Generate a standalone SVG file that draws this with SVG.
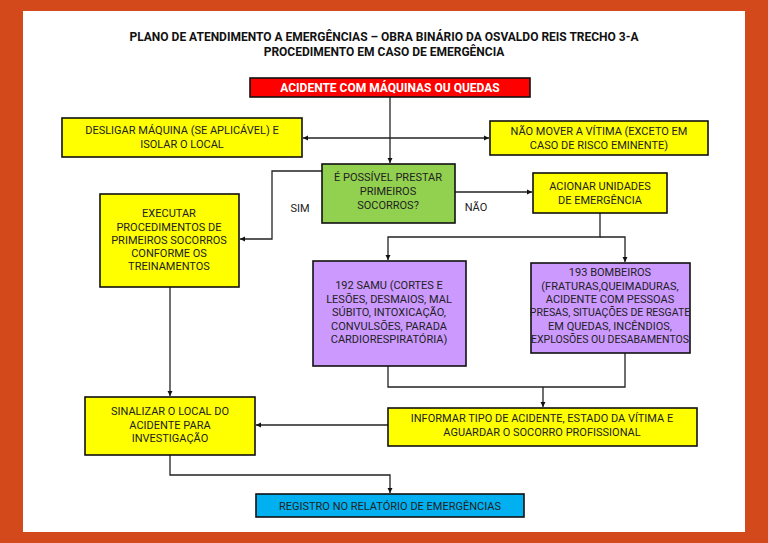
<svg xmlns="http://www.w3.org/2000/svg" width="768" height="543" viewBox="0 0 768 543">
<defs>
<marker id="ah" markerWidth="6" markerHeight="6" refX="5" refY="3" orient="auto" markerUnits="userSpaceOnUse"><path d="M0,0.5 L5,3 L0,5.5z" fill="#111"/></marker>
</defs>
<style>
.b{stroke:#111;stroke-width:1.6}
.y{fill:#ffff00}.p{fill:#cc99ff}.g{fill:#92d050}
text{font-family:Roboto,"Liberation Sans",sans-serif;font-size:11px;fill:#222;text-anchor:middle}
.s{font-size:10.5px}
.c{fill:none;stroke:#222;stroke-width:1.3}
</style>
<rect width="768" height="543" fill="#d4491c"/>
<rect x="23" y="11" width="722" height="521" fill="#fff"/>
<g id="title"><text x="384" y="41" style="font-weight:bold;font-size:12px;fill:#111">PLANO DE ATENDIMENTO A EMERGÊNCIAS – OBRA BINÁRIO DA OSVALDO REIS TRECHO 3-A</text>
<text x="384" y="56" style="font-weight:bold;font-size:12px;fill:#111">PROCEDIMENTO EM CASO DE EMERGÊNCIA</text></g>
<g id="connectors">
<path class="c" d="M390,97 V163" marker-end="url(#ah)"/>
<path class="c" d="M390,138 H303" marker-end="url(#ah)"/>
<path class="c" d="M390,138 H489" marker-end="url(#ah)"/>
<path class="c" d="M322,171 H272 V239 H240" marker-end="url(#ah)"/>
<path class="c" d="M455,192 H532" marker-end="url(#ah)"/>
<path class="c" d="M600,213 V237 H388 V260"  marker-end="url(#ah)"/>
<path class="c" d="M600,237 H625 V262" marker-end="url(#ah)"/>
<path class="c" d="M170,287 V396" marker-end="url(#ah)"/>
<path class="c" d="M388,366 V387 H625 V353"/>
<path class="c" d="M543,387 V407" marker-end="url(#ah)"/>
<path class="c" d="M388,425 H256" marker-end="url(#ah)"/>
<path class="c" d="M170,455 V475 H390 V493" marker-end="url(#ah)"/>
<text x="300" y="212">SIM</text><text x="476" y="211">NÃO</text>
</g>
<g id="n1"><rect x="250" y="78" width="280" height="19" fill="#ff0000" class="b"/><text x="390" y="92" style="fill:#fff;font-weight:bold;font-size:12px">ACIDENTE COM MÁQUINAS OU QUEDAS</text></g>
<g id="n2"><rect x="62" y="118" width="240" height="39" class="y b"/><text x="182" y="134">DESLIGAR MÁQUINA (SE APLICÁVEL) E</text><text x="182" y="148">ISOLAR O LOCAL</text></g>
<g id="n3"><rect x="490" y="121" width="218" height="34" class="y b"/><text x="599" y="135">NÃO MOVER A VÍTIMA (EXCETO EM</text><text x="599" y="149">CASO DE RISCO EMINENTE)</text></g>
<g id="n4"><rect x="322" y="164" width="133" height="59" class="g b"/><text x="388" y="181">É POSSÍVEL PRESTAR</text><text x="388" y="195">PRIMEIROS</text><text x="388" y="209">SOCORROS?</text></g>
<g id="n5"><rect x="533" y="173" width="134" height="40" class="y b"/><text x="600" y="190">ACIONAR UNIDADES</text><text x="600" y="204">DE EMERGÊNCIA</text></g>
<g id="n6"><rect x="100" y="194" width="139" height="93" class="y b"/><text x="169" y="217">EXECUTAR</text><text x="169" y="231">PROCEDIMENTOS DE</text><text x="169" y="244">PRIMEIROS SOCORROS</text><text x="169" y="257">CONFORME OS</text><text x="169" y="270">TREINAMENTOS</text></g>
<g id="n7"><rect x="313" y="261" width="153" height="105" class="p b"/><text x="389" y="289">192 SAMU (CORTES E</text><text x="389" y="303">LESÕES, DESMAIOS, MAL</text><text x="389" y="316">SÚBITO, INTOXICAÇÃO,</text><text x="389" y="330">CONVULSÕES, PARADA</text><text x="389" y="343">CARDIORESPIRATÓRIA)</text></g>
<g id="n8"><rect x="531" y="263" width="159" height="90" class="p b"/><text x="610" y="276">193 BOMBEIROS</text><text x="610" y="290">(FRATURAS,QUEIMADURAS,</text><text x="610" y="303">ACIDENTE COM PESSOAS</text><text class="s" x="610" y="316">PRESAS, SITUAÇÕES DE RESGATE</text><text x="610" y="330">EM QUEDAS, INCÊNDIOS,</text><text class="s" x="610" y="343">EXPLOSÕES OU DESABAMENTOS</text></g>
<g id="n9"><rect x="85" y="397" width="170" height="58" class="y b"/><text x="170" y="415">SINALIZAR O LOCAL DO</text><text x="170" y="429">ACIDENTE PARA</text><text x="170" y="442">INVESTIGAÇÃO</text></g>
<g id="n10"><rect x="388" y="408" width="309" height="38" class="y b"/><text x="542" y="422">INFORMAR TIPO DE ACIDENTE, ESTADO DA VÍTIMA E</text><text x="542" y="436">AGUARDAR O SOCORRO PROFISSIONAL</text></g>
<g id="n11"><rect x="256" y="494" width="268" height="23" fill="#00b0f0" class="b"/><text x="390" y="510">REGISTRO NO RELATÓRIO DE EMERGÊNCIAS</text></g>
</svg>
